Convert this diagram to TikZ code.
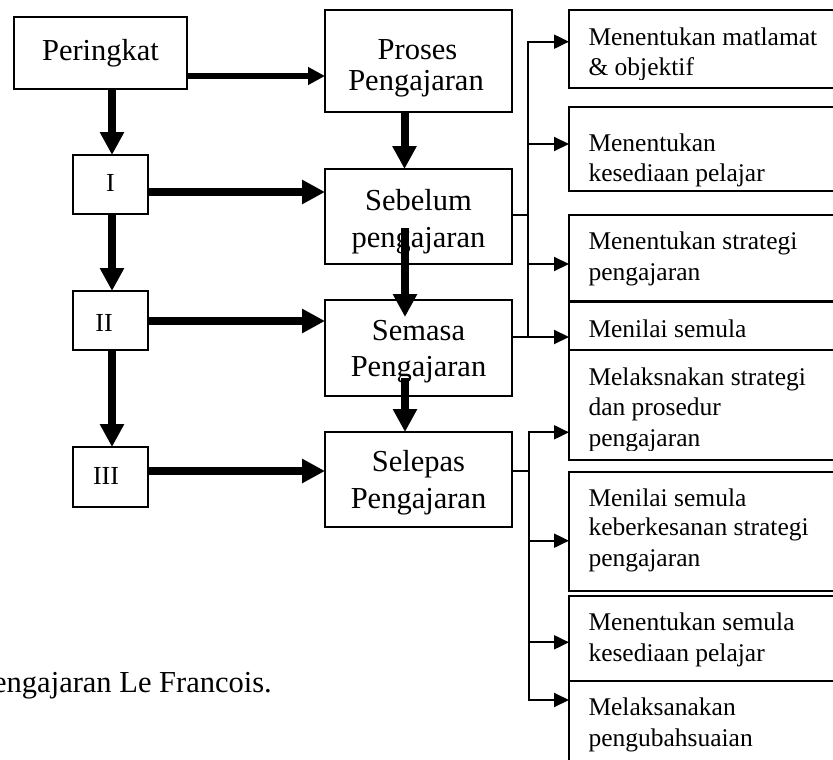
\documentclass[tikz,border=0pt]{standalone}
\usepackage{fontspec}
\setmainfont{Liberation Serif}
\usetikzlibrary{arrows.meta}
\begin{document}
\begin{tikzpicture}[x=1pt,y=-1pt,
  box/.style={draw=black,line width=2pt,inner sep=0pt,outer sep=0pt},
  bigt/.style={inner sep=0pt,anchor=base,font=\fontsize{30.5}{36}\selectfont},
  numt/.style={inner sep=0pt,anchor=base,font=\fontsize{26}{30}\selectfont},
  smt/.style={inner sep=0pt,anchor=base west,font=\fontsize{25.5}{30}\selectfont},
  thickarr/.style={line width=8pt,-{Triangle[length=23pt,width=23pt]}},
  toparr/.style={line width=6pt,-{Triangle[length=17pt,width=17pt]}},
  thinline/.style={line width=2pt,line cap=rect},
  thinarr/.style={line width=2pt,-{Triangle[length=15pt,width=14pt]}}]
\useasboundingbox (0,0) rectangle (833,760);
\clip (0,0) rectangle (833,760);

% left and middle boxes
\node[box,minimum width=173pt,minimum height=72pt] (peringkat) at (100.5,53) {};
\node[box,minimum width=187pt,minimum height=102pt] (proses) at (418.5,61) {};
\node[box,minimum width=187pt,minimum height=95pt] (sebelum) at (418.5,216.5) {};
\node[box,minimum width=187pt,minimum height=96pt] (semasa) at (418.5,348) {};
\node[box,minimum width=187pt,minimum height=95pt] (selepas) at (418.5,479.5) {};
\node[box,minimum width=75pt,minimum height=59pt] (n1) at (110.5,184.5) {};
\node[box,minimum width=75pt,minimum height=59pt] (n2) at (110.5,320.5) {};
\node[box,minimum width=75pt,minimum height=60pt] (n3) at (110.5,477) {};

% right boxes
\node[box,minimum width=351pt,minimum height=78pt] (b1) at (744.5,49) {};
\node[box,minimum width=351pt,minimum height=84pt] (b2) at (744.5,149) {};
\node[box,minimum width=351pt,minimum height=85.5pt] (b3) at (744.5,257.75) {};
\node[box,minimum width=351pt,minimum height=48pt] (b4) at (744.5,326) {};
\node[box,minimum width=351pt,minimum height=110pt] (b5) at (744.5,405) {};
\node[box,minimum width=351pt,minimum height=119.5pt] (b6) at (744.5,531.25) {};
\node[box,minimum width=351pt,minimum height=85pt] (b7) at (744.5,638) {};
\node[box,minimum width=351pt,minimum height=119.5pt] (b8) at (744.5,740.25) {};

% texts
\node[bigt] (tper) at (100.5,60) {Peringkat};
\node[bigt] (tpro1) at (417.5,59.3) {Proses};
\node[bigt] (tpro2) at (416,90) {Pengajaran};
\node[bigt] (tseb1) at (418.5,210) {Sebelum};
\node[bigt] (tseb2) at (418.5,247) {pengajaran};
\node[bigt] (tsem1) at (418.5,340.7) {Semasa};
\node[bigt] (tsem2) at (418.5,376.7) {Pengajaran};
\node[bigt] (tsel1) at (418.5,471.7) {Selepas};
\node[bigt] (tsel2) at (418.5,508.3) {Pengajaran};
\node[numt] (tn1) at (110.5,191.7) {I};
\node[numt] (tn2) at (104,331.7) {II};
\node[numt] (tn3) at (106,484.3) {III};
\node[bigt,anchor=base east] (tcap) at (272,692.7) {engajaran Le Francois.};

\node[smt] (t1a) at (588.3,45.7) {Menentukan matlamat};
\begin{scope}
\clip (560,47.5) rectangle (833,79.5);
\node[smt] (t1b) at (588.3,76) {\&\ objektif};
\end{scope}
\node[smt] (t2a) at (588.3,151.7) {Menentukan};
\node[smt] (t2b) at (588.3,181.7) {kesediaan pelajar};
\node[smt] (t3a) at (588.3,249.5) {Menentukan strategi};
\node[smt] (t3b) at (588.3,280) {pengajaran};
\node[smt] (t4a) at (588.3,337.3) {Menilai semula};
\node[smt] (t5a) at (588.3,385.7) {Melaksnakan strategi};
\node[smt] (t5b) at (588.3,415.7) {dan prosedur};
\begin{scope}
\clip (560,417.5) rectangle (833,450);
\node[smt] (t5c) at (588.3,446) {pengajaran};
\end{scope}
\node[smt] (t6a) at (588.3,506.7) {Menilai semula};
\node[smt] (t6b) at (588.3,535.5) {keberkesanan strategi};
\node[smt] (t6c) at (588.3,566.7) {pengajaran};
\node[smt] (t7a) at (588.3,630.7) {Menentukan semula};
\node[smt] (t7b) at (588.3,661.7) {kesediaan pelajar};
\node[smt] (t8a) at (588.3,715) {Melaksanakan};
\node[smt] (t8b) at (588.3,746) {pengubahsuaian};

% helper coordinates
\coordinate (cx1) at (112,0);
\coordinate (cx2) at (404.5,0);
\coordinate (ya) at (0,76);
\coordinate (yb) at (0,192);
\coordinate (yc) at (0,321);
\coordinate (yd) at (0,471);
\coordinate (s2a) at (405,228);
\coordinate (s2b) at (405,317);
\coordinate (s3a) at (405,378);

% thick arrows
\draw[toparr] (peringkat.east |- ya) -- (proses.west |- ya);
\draw[thickarr] (peringkat.south -| cx1) -- (n1.north -| cx1);
\draw[thickarr] (n1.south -| cx1) -- (n2.north -| cx1);
\draw[thickarr] (n2.south -| cx1) -- (n3.north -| cx1);
\draw[thickarr] (n1.east |- yb) -- (sebelum.west |- yb);
\draw[thickarr] (n2.east |- yc) -- (semasa.west |- yc);
\draw[thickarr] (n3.east |- yd) -- (selepas.west |- yd);
\draw[thickarr] (proses.south -| cx2) -- (sebelum.north -| cx2);
\draw[thickarr] (s2a) -- (s2b);
\draw[thickarr] (s3a) -- (selepas.north -| s3a);

% upper bus
\coordinate (p1) at (528.3,41.7);
\coordinate (p2) at (528.3,144);
\coordinate (p3) at (528.3,264);
\coordinate (p4) at (528.3,337);
\coordinate (pj) at (528.3,215);
\draw[thinline] (p1) -- (p4);
\draw[thinline] (pj -| sebelum.east) -- (pj);
\draw[thinarr] (p1) -- (p1 -| b1.west);
\draw[thinarr] (p2) -- (p2 -| b2.west);
\draw[thinarr] (p3) -- (p3 -| b3.west);
\draw[thinarr] (p4 -| semasa.east) -- (p4 -| b4.west);

% lower bus
\coordinate (q1) at (529.3,432.3);
\coordinate (q2) at (529.3,540.7);
\coordinate (q3) at (529.3,642.3);
\coordinate (q4) at (529.3,700);
\coordinate (qj) at (529.3,471);
\draw[thinline] (q1) -- (q4);
\draw[thinline] (qj -| selepas.east) -- (qj);
\draw[thinarr] (q1) -- (q1 -| b5.west);
\draw[thinarr] (q2) -- (q2 -| b6.west);
\draw[thinarr] (q3) -- (q3 -| b7.west);
\draw[thinarr] (q4) -- (q4 -| b8.west);
\end{tikzpicture}
\end{document}
